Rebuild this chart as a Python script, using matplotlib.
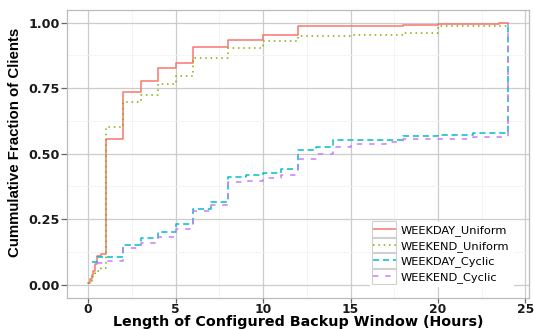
import matplotlib
matplotlib.use("Agg")
import matplotlib.pyplot as plt
from matplotlib.patches import Rectangle
from matplotlib.ticker import MultipleLocator

# step points (x where the ECDF jumps, value after the jump)
wd_uni_x = [0, 0.1, 0.2, 0.3, 0.4, 0.5, 0.75, 1, 2, 3, 4, 5, 6, 8, 10, 12, 18, 20, 23.5, 24]
wd_uni_y = [0.005, 0.02, 0.035, 0.05, 0.08, 0.11, 0.117, 0.555, 0.735, 0.777, 0.826, 0.845,
            0.905, 0.932, 0.953, 0.987, 0.989, 0.994, 0.997, 1.0]
we_uni_x = [0, 0.1, 0.2, 0.3, 0.4, 0.5, 0.75, 1, 2, 3, 4, 5, 6, 8, 10, 12, 15, 18, 20, 24]
we_uni_y = [0.005, 0.015, 0.025, 0.035, 0.045, 0.053, 0.062, 0.603, 0.696, 0.725, 0.766, 0.796,
            0.865, 0.903, 0.929, 0.948, 0.953, 0.959, 0.987, 1.0]
wd_cyc_x = [0.2, 0.5, 2, 3, 4, 5, 6, 7, 8, 9, 10, 11, 12, 13, 14, 18, 20, 22, 24]
wd_cyc_y = [0.087, 0.107, 0.152, 0.177, 0.2, 0.233, 0.29, 0.316, 0.411, 0.417, 0.427, 0.443,
            0.514, 0.527, 0.551, 0.567, 0.570, 0.577, 1.0]
we_cyc_x = [0.5, 1, 2, 3, 4, 5, 6, 7, 8, 9, 10, 11, 12, 13, 14, 15, 17, 18, 20, 22, 24]
we_cyc_y = [0.082, 0.09, 0.138, 0.158, 0.182, 0.212, 0.281, 0.303, 0.392, 0.397, 0.405, 0.418,
            0.48, 0.50, 0.526, 0.538, 0.544, 0.554, 0.557, 0.565, 1.0]

labels = ["WEEKDAY_Uniform", "WEEKEND_Uniform", "WEEKDAY_Cyclic", "WEEKEND_Cyclic"]
colors = ["#F8766D", "#7CAE00", "#00BFC4", "#C77CFF"]
dashes = [None, (1, 2.5), (4, 2.5), (3.5, 4.5)]

fig = plt.figure(figsize=(5.34, 3.30), dpi=100)
ax = fig.add_axes([0.1258, 0.0979, 0.8648, 0.8733])

series = [(wd_uni_x, wd_uni_y), (we_uni_x, we_uni_y), (wd_cyc_x, wd_cyc_y), (we_cyc_x, we_cyc_y)]
for (xs, ys), lab, col, d in zip(series, labels, colors, dashes):
    line, = ax.step(xs, ys, where="post", color=col, lw=1.1, label=lab)
    if d is not None:
        line.set_dashes(d)

ax.set_xlim(-1.2, 25.2)
ax.set_ylim(-0.05, 1.05)
ax.xaxis.set_major_locator(MultipleLocator(5))
ax.xaxis.set_minor_locator(MultipleLocator(2.5))
ax.yaxis.set_major_locator(MultipleLocator(0.25))
ax.yaxis.set_minor_locator(MultipleLocator(0.125))
ax.set_yticklabels(["%.2f" % v for v in ax.get_yticks()])
ax.grid(which="major", color="#CCCCCC", lw=0.9)
ax.grid(which="minor", color="#F3F3F3", lw=0.6)
ax.set_axisbelow(True)
for s in ax.spines.values():
    s.set_color("#BBBBBB")
    s.set_linewidth(0.9)
ax.tick_params(which="major", length=4, width=0.9, color="#666666", pad=1.5,
               labelsize=9.2, labelcolor="#1a1a1a")
ax.tick_params(axis="x", length=3.5, pad=0, labelsize=8.8)
ax.tick_params(which="minor", length=0)
for t in ax.get_xticklabels() + ax.get_yticklabels():
    t.set_fontweight("bold")

ax.set_xlabel("Length of Configured Backup Window (Hours)", fontsize=10.3, fontweight="bold")
ax.xaxis.set_label_coords(0.5, -0.060)
ax.set_ylabel("Cummulative Fraction of Clients", fontsize=10.8, fontweight="bold",
              family="Liberation Sans", va="center")
ax.yaxis.set_label_coords(-0.113, 0.54)

leg = ax.legend(loc="lower right", bbox_to_anchor=(0.965, 0.04), fontsize=8.2,
                frameon=True, fancybox=False, edgecolor="white", facecolor="white",
                framealpha=1, handlelength=2.0, handletextpad=0.45, labelspacing=0.4,
                borderpad=0.3, borderaxespad=0)

fig.canvas.draw()
for ln in leg.get_lines():
    bb = ln.get_window_extent()
    cx = (bb.x0 + bb.x1) / 2
    cy = (bb.y0 + bb.y1) / 2
    w, h = 24, 16.5
    fig.patches.append(Rectangle((cx - w / 2, cy - h / 2), w, h, transform=None,
                                 fill=False, edgecolor="#D0D0D0", lw=0.8, zorder=10))

fig.savefig("out.png", dpi=100)
